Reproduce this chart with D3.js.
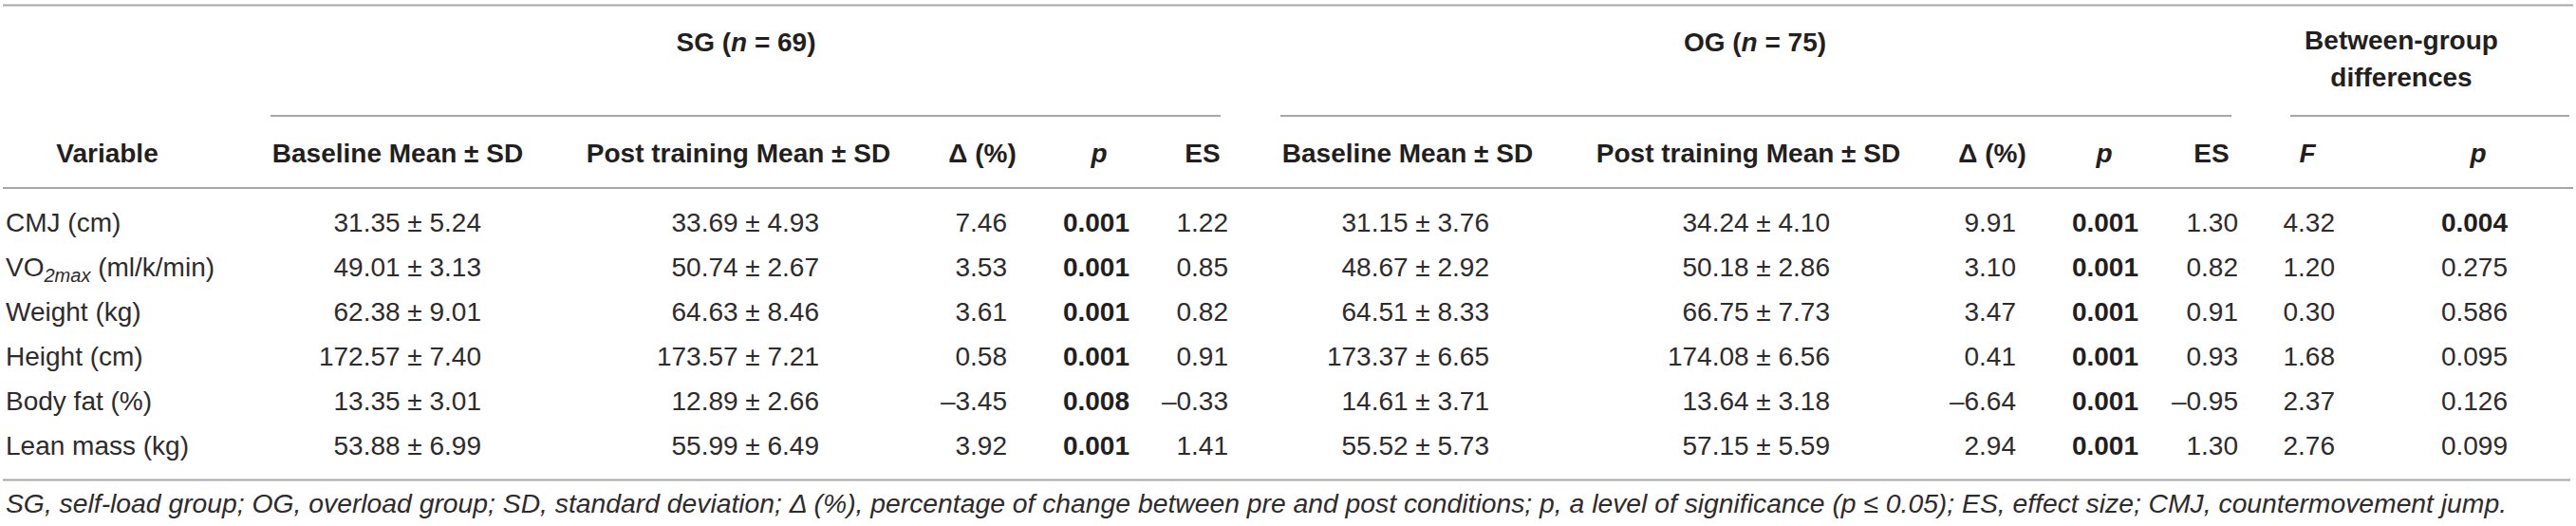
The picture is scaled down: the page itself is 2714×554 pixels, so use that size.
<!DOCTYPE html>
<html>
<head>
<meta charset="utf-8">
<script src="https://cdn.jsdelivr.net/npm/d3@7"></script>
<style>
  html, body { margin: 0; padding: 0; background: #fff; }
  svg { display: block; }
  text { font-family: "Liberation Sans", Arial, Helvetica, sans-serif; }
</style>
</head>
<body>
<svg id="chart" width="2714" height="554"></svg>
<script>
// ---------- data ----------
const variables = ["CMJ (cm)", "VO2max (ml/k/min)", "Weight (kg)", "Height (cm)", "Body fat (%)", "Lean mass (kg)"];
const sgBaseMean = [31.35, 49.01, 62.38, 172.57, 13.35, 53.88];
const sgBaseSD   = [5.24, 3.13, 9.01, 7.40, 3.01, 6.99];
const sgPostMean = [33.69, 50.74, 64.63, 173.57, 12.89, 55.99];
const sgPostSD   = [4.93, 2.67, 8.46, 7.21, 2.66, 6.49];
const sgDelta    = [7.46, 3.53, 3.61, 0.58, -3.45, 3.92];
const sgP        = [0.001, 0.001, 0.001, 0.001, 0.008, 0.001];
const sgES       = [1.22, 0.85, 0.82, 0.91, -0.33, 1.41];
const ogBaseMean = [31.15, 48.67, 64.51, 173.37, 14.61, 55.52];
const ogBaseSD   = [3.76, 2.92, 8.33, 6.65, 3.71, 5.73];
const ogPostMean = [34.24, 50.18, 66.75, 174.08, 13.64, 57.15];
const ogPostSD   = [4.10, 2.86, 7.73, 6.56, 3.18, 5.59];
const ogDelta    = [9.91, 3.10, 3.47, 0.41, -6.64, 2.94];
const ogP        = [0.001, 0.001, 0.001, 0.001, 0.001, 0.001];
const ogES       = [1.30, 0.82, 0.91, 0.93, -0.95, 1.30];
const betweenF   = [4.32, 1.20, 0.30, 1.68, 2.37, 2.76];
const betweenP   = [0.004, 0.275, 0.586, 0.095, 0.126, 0.099];
const boldBetweenP = [true, false, false, false, false, false];

const groupHeaders = ["SG|69", "OG|75", "Between-group|differences"];
const columnKeys = ["var", "sgBase", "sgPost", "sgDelta", "sgP", "sgES",
                    "ogBase", "ogPost", "ogDelta", "ogP", "ogES", "F", "bP"];
const columnHeaders = ["Variable", "Baseline Mean ± SD", "Post training Mean ± SD", "Δ (%)", "p", "ES",
                       "Baseline Mean ± SD", "Post training Mean ± SD", "Δ (%)", "p", "ES", "F", "p"];
const footnote = "SG, self-load group; OG, overload group; SD, standard deviation; Δ (%), percentage of change between pre and post conditions; p, a level of significance (p ≤ 0.05); ES, effect size; CMJ, countermovement jump.";

// ---------- layout ----------
const W = 2714, H = 554;
const svg = d3.select("#chart");
const TXT = "#231f20", BODY = "#2e2b2c", LINE = "#a7a7a7";
const FS = 28;

const f2 = v => d3.format(".2f")(v).replace("-", "\u2013").replace("\u2212", "\u2013");
const f3 = v => d3.format(".3f")(v);

// x anchor (right edge for data) per column
const colRight = d3.scaleOrdinal().domain(columnKeys)
  .range([6, 507, 863, 1061, 1190, 1294, 1569, 1928, 2124, 2253, 2358, 2460, 2642]);
// header centres per column
const colCenter = d3.scaleOrdinal().domain(columnKeys)
  .range([113, 419, 778, 1035, 1158, 1267, 1483, 1842, 2099, 2217, 2330, 2431, 2611]);

const rowY = d3.scalePoint().domain(d3.range(variables.length)).range([244, 479]);

// ---------- rules ----------
const hRules = [
  {x1: 3, x2: 2711, y: 5.5},
  {x1: 285, x2: 1286, y: 122},
  {x1: 1349, x2: 2351, y: 122},
  {x1: 2413, x2: 2707, y: 122},
  {x1: 3, x2: 2711, y: 198},
  {x1: 3, x2: 2708, y: 505.5}
];
svg.selectAll("line.rule").data(hRules).join("line")
  .attr("class", "rule")
  .attr("x1", d => d.x1).attr("x2", d => d.x2)
  .attr("y1", d => d.y).attr("y2", d => d.y)
  .attr("stroke", LINE).attr("stroke-width", 2);

// ---------- group headers ----------
const groupCenter = d3.scaleOrdinal().domain([0, 1, 2]).range([786, 1849, 2530]);
groupHeaders.forEach((g, i) => {
  const [a, b] = g.split("|");
  if (i < 2) {
    const t = svg.append("text").attr("x", groupCenter(i)).attr("y", 54)
      .attr("text-anchor", "middle").attr("font-size", FS).attr("font-weight", "bold").attr("fill", TXT);
    t.append("tspan").text(a + " (");
    t.append("tspan").attr("font-style", "italic").text("n");
    t.append("tspan").text(" = " + b + ")");
  } else {
    svg.append("text").attr("x", groupCenter(i)).attr("y", 52)
      .attr("text-anchor", "middle").attr("font-size", FS).attr("font-weight", "bold").attr("fill", TXT).text(a);
    svg.append("text").attr("x", groupCenter(i)).attr("y", 91)
      .attr("text-anchor", "middle").attr("font-size", FS).attr("font-weight", "bold").attr("fill", TXT).text(b);
  }
});

// ---------- column headers ----------
svg.selectAll("text.colhead").data(columnKeys).join("text")
  .attr("class", "colhead")
  .attr("x", k => colCenter(k)).attr("y", 171)
  .attr("text-anchor", "middle")
  .attr("font-size", FS).attr("font-weight", "bold").attr("fill", TXT)
  .attr("font-style", (k, i) => (columnHeaders[i] === "p" || columnHeaders[i] === "F") ? "italic" : "normal")
  .text((k, i) => columnHeaders[i]);

// ---------- body ----------
const rows = variables.map((v, i) => ({
  i,
  var: v,
  sgBase: f2(sgBaseMean[i]) + " ± " + f2(sgBaseSD[i]),
  sgPost: f2(sgPostMean[i]) + " ± " + f2(sgPostSD[i]),
  sgDelta: f2(sgDelta[i]),
  sgP: f3(sgP[i]),
  sgES: f2(sgES[i]),
  ogBase: f2(ogBaseMean[i]) + " ± " + f2(ogBaseSD[i]),
  ogPost: f2(ogPostMean[i]) + " ± " + f2(ogPostSD[i]),
  ogDelta: f2(ogDelta[i]),
  ogP: f3(ogP[i]),
  ogES: f2(ogES[i]),
  F: f2(betweenF[i]),
  bP: f3(betweenP[i])
}));

const cells = [];
rows.forEach(r => columnKeys.forEach(k => {
  const bold = (k === "sgP" || k === "ogP") || (k === "bP" && boldBetweenP[r.i]);
  cells.push({row: r.i, key: k, text: r[k], bold});
}));

const cellSel = svg.selectAll("text.cell").data(cells).join("text")
  .attr("class", "cell")
  .attr("x", d => colRight(d.key))
  .attr("y", d => rowY(d.row))
  .attr("text-anchor", d => d.key === "var" ? "start" : "end")
  .attr("font-size", FS)
  .attr("font-weight", d => d.bold ? "bold" : "normal")
  .attr("fill", d => d.bold ? TXT : BODY);

cellSel.each(function(d) {
  const t = d3.select(this);
  if (d.key === "var" && d.text.startsWith("VO2max")) {
    t.append("tspan").text("VO");
    t.append("tspan").attr("font-size", 20).attr("font-style", "italic").attr("dy", 6).text("2max");
    t.append("tspan").attr("dy", -6).text(" (ml/k/min)");
  } else {
    t.text(d.text);
  }
});

// ---------- footnote ----------
const fn = svg.append("text").attr("x", 6).attr("y", 540)
  .attr("font-size", FS).attr("font-style", "italic").attr("fill", BODY).text(footnote);
const len = fn.node().getComputedTextLength();
const target = 2637;
fn.attr("font-size", FS * target / len);
</script>
</body>
</html>
